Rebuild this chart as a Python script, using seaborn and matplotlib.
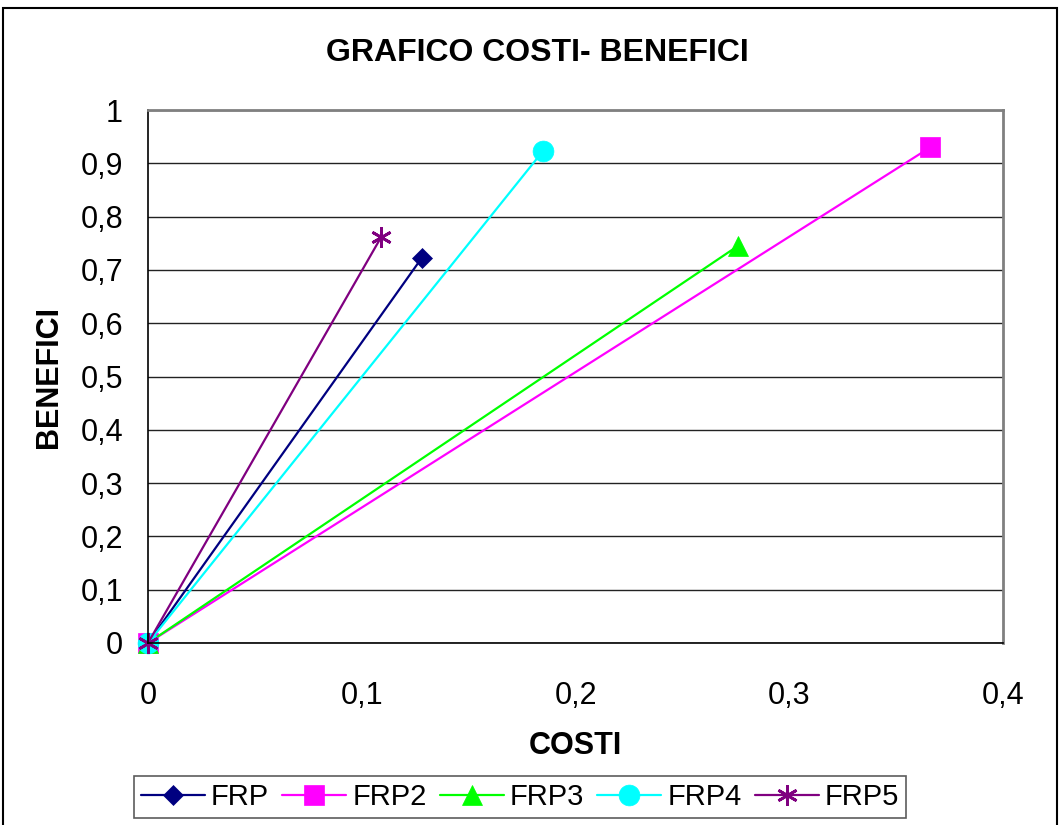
import matplotlib
matplotlib.use("Agg")
import matplotlib.pyplot as plt
import seaborn as sns
import pandas as pd
from matplotlib.patches import Rectangle

# Data
series = ["FRP", "FRP2", "FRP3", "FRP4", "FRP5"]
costi = [0.128, 0.366, 0.276, 0.185, 0.109]
benefici = [0.722, 0.930, 0.745, 0.924, 0.761]
colors = ["#000080", "#FF00FF", "#00FF00", "#00FFFF", "#800080"]
markers = ["D", "s", "^", "o", (6, 2, 0)]
msizes = [10, 15, 14.5, 15, 15]
xticks = [0, 0.1, 0.2, 0.3, 0.4]
xticklabels = ["0", "0,1", "0,2", "0,3", "0,4"]
yticks = [0, 0.1, 0.2, 0.3, 0.4, 0.5, 0.6, 0.7, 0.8, 0.9, 1.0]
yticklabels = ["0", "0,1", "0,2", "0,3", "0,4", "0,5", "0,6", "0,7", "0,8", "0,9", "1"]

sns.set_style("white")
plt.rcParams["font.family"] = ["Liberation Sans", "DejaVu Sans"]
for k in ["text.color", "axes.labelcolor", "xtick.color", "ytick.color"]:
    plt.rcParams[k] = "black"

fig = plt.figure(figsize=(10.6, 8.25), dpi=100)
ax = fig.add_axes([148/1060, 1-643/825, (1003-148)/1060, (643-110)/825])

for name, cx, by, col, mk, ms in zip(series, costi, benefici, colors, markers, msizes):
    df = pd.DataFrame({"COSTI": [0.0, cx], "BENEFICI": [0.0, by]})
    sns.lineplot(data=df, x="COSTI", y="BENEFICI", ax=ax, color=col, marker=mk,
                 markersize=ms, markeredgecolor=col,
                 markeredgewidth=2 if mk == (6, 2, 0) else 0.5,
                 linewidth=1.6, label=name, sort=False, clip_on=False)

ax.set_xlim(0, 0.4)
ax.set_ylim(0, 1)
ax.set_xticks(xticks)
ax.set_xticklabels(xticklabels)
ax.set_yticks(yticks)
ax.set_yticklabels(yticklabels)
ax.tick_params(axis="both", direction="out", length=6, width=1, color="black",
               labelsize=22)
ax.tick_params(axis="x", pad=21)
ax.tick_params(axis="y", pad=12)
ax.yaxis.grid(True, color="#222222", linewidth=1)
ax.xaxis.grid(False)
ax.set_axisbelow(True)
for s in ["left", "bottom"]:
    ax.spines[s].set_color("black")
    ax.spines[s].set_linewidth(1.2)
for s in ["top", "right"]:
    ax.spines[s].set_color("#808080")
    ax.spines[s].set_linewidth(2)

ax.set_xlabel("COSTI", fontsize=22, fontweight="bold", labelpad=15)
ax.set_ylabel("BENEFICI", fontsize=22, fontweight="bold", labelpad=12)
fig.text(537/1060, 1-53/825, "GRAFICO COSTI- BENEFICI", fontsize=23, fontweight="bold",
         ha="center", va="center")

leg = ax.legend(loc="center", bbox_to_anchor=(520/1060, 1-797/825), bbox_transform=fig.transFigure,
                ncol=5, prop={"size": 21}, frameon=True,
                fancybox=False, edgecolor="#333333",
                handlelength=2.2, handletextpad=0.2, columnspacing=0.45, borderpad=0.25,
                borderaxespad=0)
leg.get_frame().set_linewidth(1.2)

fig.patches.append(Rectangle((3/1060, -0.01), 1 - 6/1060, 1 - 8/825 + 0.01, transform=fig.transFigure,
                             fill=False, edgecolor="black", linewidth=1.5))

fig.savefig("out.png", dpi=100)
